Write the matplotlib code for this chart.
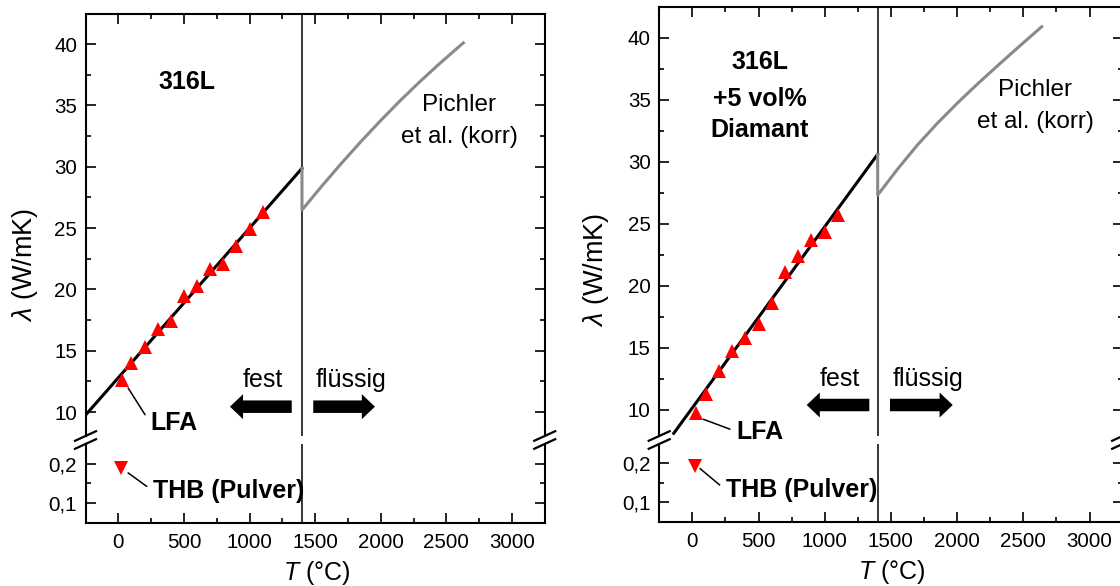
import matplotlib
matplotlib.use('Agg')
import matplotlib.pyplot as plt
from matplotlib.ticker import MultipleLocator, FixedLocator, FuncFormatter
from matplotlib.patches import FancyArrowPatch
from matplotlib.lines import Line2D

plt.rcParams['font.family'] = ['Liberation Sans', 'DejaVu Sans']
plt.rcParams['mathtext.fontset'] = 'custom'
plt.rcParams['mathtext.rm'] = 'Liberation Sans'
plt.rcParams['mathtext.it'] = 'Liberation Sans:italic'
plt.rcParams['mathtext.bf'] = 'Liberation Sans:bold'

# ---------------- data ----------------
T_lfa = [25, 100, 200, 300, 400, 500, 600, 700, 800, 900, 1000, 1100]
lam_316 = [12.6, 14.0, 15.3, 16.8, 17.4, 19.5, 20.3, 21.7, 22.1, 23.5, 24.9, 26.3]
lam_dia = [9.7, 11.3, 13.1, 14.7, 15.8, 16.9, 18.6, 21.1, 22.4, 23.7, 24.3, 25.7]

T_thb = [20]
thb_316 = [0.19]
thb_dia = [0.192]

fit_T_316 = [-250, 1400]
fit_316 = [9.75, 29.87]
fit_T_dia = [-140, 1400]
fit_dia = [8.1, 30.6]

pichler_T_316 = [1400, 1400, 1550, 1700, 1850, 2000, 2150, 2300, 2450, 2630]
pichler_316 = [29.87, 26.47, 28.41, 30.27, 32.06, 33.77, 35.40, 36.95, 38.42, 40.1]
pichler_T_dia = [1400, 1400, 1550, 1700, 1850, 2000, 2150, 2300, 2450, 2639]
pichler_dia = [30.6, 27.31, 29.40, 31.35, 33.09, 34.71, 36.23, 37.69, 39.12, 40.89]

T_melt = 1400
x_ticks = [0, 500, 1000, 1500, 2000, 2500, 3000]
y_ticks_upper = [10, 15, 20, 25, 30, 35, 40]
y_ticks_lower = [0.1, 0.2]

W, H = 1120, 586
fig = plt.figure(figsize=(W / 100, H / 100), dpi=100)

RED = '#ff0000'
GRAY = '#8a8a8a'
TICK_FS = 14.8
XLAB_FS = 18
YLAB_FS = 19.5


def px_axes(x0, x1, y0, y1):
    return fig.add_axes([x0 / W, 1 - y1 / H, (x1 - x0) / W, (y1 - y0) / H])


def style(ax, upper):
    for s in ax.spines.values():
        s.set_linewidth(1.5)
    ax.set_xlim(-250, 3250)
    ax.xaxis.set_major_locator(FixedLocator(x_ticks))
    ax.xaxis.set_minor_locator(MultipleLocator(250))
    if upper:
        ax.spines['bottom'].set_visible(False)
        ax.tick_params(axis='x', which='both', top=True, bottom=False,
                       labelbottom=False, labeltop=False)
        ax.yaxis.set_major_locator(FixedLocator(y_ticks_upper))
        ax.yaxis.set_minor_locator(MultipleLocator(2.5))
    else:
        ax.spines['top'].set_visible(False)
        ax.tick_params(axis='x', which='both', top=False, bottom=True)
        ax.yaxis.set_major_locator(FixedLocator(y_ticks_lower))
        ax.yaxis.set_minor_locator(FixedLocator([0.15]))
        ax.yaxis.set_major_formatter(
            FuncFormatter(lambda v, p: f"{v:.1f}".replace('.', ',')))
    ax.tick_params(axis='y', which='both', left=True, right=True)
    ax.tick_params(which='both', direction='in', width=1.2, labelsize=TICK_FS,
                   colors='black')
    ax.tick_params(which='major', length=7)
    ax.tick_params(which='minor', length=3.5)
    ax.tick_params(axis='x', pad=7.5)
    ax.tick_params(axis='y', pad=6)


def break_marks(xpx, yA, yB):
    for yc in (yA, yB):
        fig.add_artist(Line2D([(xpx - 10.5) / W, (xpx + 10.5) / W],
                              [1 - (yc + 4.8) / H, 1 - (yc - 4.8) / H],
                              color='black', lw=1.6, transform=fig.transFigure))


def arrow(ax, tail, tip):
    p = FancyArrowPatch(posA=tail, posB=tip,
                        arrowstyle='simple,head_length=0.63,head_width=1.2,tail_width=0.6',
                        mutation_scale=15, color='black', lw=0,
                        shrinkA=0, shrinkB=0, clip_on=False)
    ax.add_patch(p)


panels = [
    dict(x0=85.5, x1=544.7, uy=(14, 436), ly=(444, 523),
         uylim=(8.05, 42.45), lylim=(0.0487, 0.251),
         lam=lam_316, thb=thb_316, fitT=fit_T_316, fit=fit_316,
         pT=pichler_T_316, p=pichler_316,
         title=[('316L', 36.9)], title_T=524,
         pich=[(2597, 35.03, 'Pichler'), (2600, 32.4, 'et al. (korr)')],
         fest=(1103, 12.03), fl=(1772, 12.03), arrow_y=10.44,
         arrL=(1322, 851), arrR=(1486, 1956),
         lfa=((75, 11.96), (242, 9.14)), thbann=((75, 0.177), (264, 0.131)),
         ylab=(25, 265), xlab=(317, 573)),
    dict(x0=659.2, x1=1122.6, uy=(7, 436), ly=(444, 521.7),
         uylim=(7.88, 42.48), lylim=(0.0495, 0.249),
         lam=lam_dia, thb=thb_dia, fitT=fit_T_dia, fit=fit_dia,
         pT=pichler_T_dia, p=pichler_dia,
         title=[('316L', 38.04), ('+5 vol%', 35.06), ('Diamant', 32.56)], title_T=511,
         pich=[(2585, 35.8, 'Pichler'), (2590, 33.2, 'et al. (korr)')],
         fest=(1116, 11.91), fl=(1780, 11.91), arrow_y=10.38,
         arrL=(1337, 864), arrR=(1493, 1967),
         lfa=((83, 9.23), (335, 8.23)), thbann=((58, 0.186), (252, 0.131)),
         ylab=(596, 270), xlab=(892, 572)),
]

for P in panels:
    axu = px_axes(P['x0'], P['x1'], *P['uy'])
    axl = px_axes(P['x0'], P['x1'], *P['ly'])
    style(axu, True)
    style(axl, False)
    axu.set_ylim(*P['uylim'])
    axl.set_ylim(*P['lylim'])

    for ax in (axu, axl):
        ax.axvline(T_melt, color='black', lw=1.1, zorder=2)

    axu.plot(P['fitT'], P['fit'], color='black', lw=2.2, zorder=3)
    axu.plot(P['pT'], P['p'], color=GRAY, lw=2.2, zorder=4,
             solid_joinstyle='round')
    axu.plot(T_lfa, P['lam'], linestyle='none', marker='^', ms=9.8,
             color=RED, markeredgewidth=0, zorder=5)
    axl.plot(T_thb, P['thb'], linestyle='none', marker='v', ms=9.8,
             color=RED, markeredgewidth=0, zorder=5)

    # labels inside
    for txt, yv in P['title']:
        axu.text(P['title_T'], yv, txt, ha='center', va='center',
                 fontsize=18, fontweight='bold')
    for tx, yv, txt in P['pich']:
        axu.text(tx, yv, txt, ha='center', va='center', fontsize=17.5)
    axu.text(P['fest'][0], P['fest'][1], 'fest', ha='center', va='baseline',
             fontsize=18)
    axu.text(P['fl'][0], P['fl'][1], 'flüssig', ha='center', va='baseline',
             fontsize=18)
    arrow(axu, (P['arrL'][0], P['arrow_y']), (P['arrL'][1], P['arrow_y']))
    arrow(axu, (P['arrR'][0], P['arrow_y']), (P['arrR'][1], P['arrow_y']))

    (xy, xt) = P['lfa']
    axu.annotate('LFA', xy=xy, xytext=xt, ha='left', va='center',
                 fontsize=18, fontweight='bold', annotation_clip=False,
                 arrowprops=dict(arrowstyle='-', lw=1.1, color='black',
                                 relpos=(0, 0.5), shrinkA=3, shrinkB=0))
    (xy, xt) = P['thbann']
    axl.annotate('THB (Pulver)', xy=xy, xytext=xt, ha='left', va='center',
                 fontsize=18, fontweight='bold', annotation_clip=False,
                 arrowprops=dict(arrowstyle='-', lw=1.1, color='black',
                                 relpos=(0, 0.5), shrinkA=3, shrinkB=0))

    fig.text(P['ylab'][0] / W, 1 - P['ylab'][1] / H, r'$\lambda$ (W/mK)',
             rotation=90, ha='center', va='center', fontsize=YLAB_FS)
    fig.text(P['xlab'][0] / W, 1 - P['xlab'][1] / H, r'$T$ (°C)',
             ha='center', va='center', fontsize=XLAB_FS)

    break_marks(P['x0'], P['uy'][1], P['ly'][0])
    break_marks(P['x1'], P['uy'][1], P['ly'][0])

fig.savefig('out.png', dpi=100, facecolor='white')
